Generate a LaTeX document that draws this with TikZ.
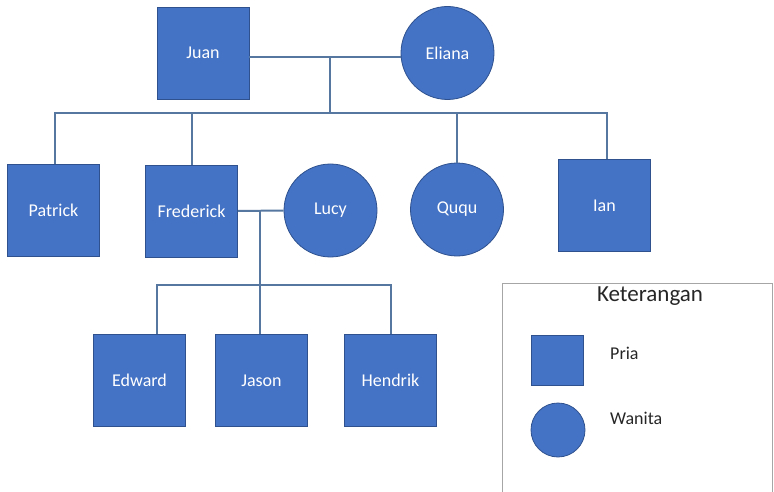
\documentclass[tikz,border=0pt]{standalone}
\usepackage{fontspec}
\setmainfont{Carlito}
\definecolor{isi}{RGB}{68,114,196}
\definecolor{tepi}{RGB}{47,82,143}
\definecolor{garis}{RGB}{86,120,160}
\tikzset{
    pria/.style={rectangle, fill=isi, draw=tepi, line width=0.8pt, minimum width=92pt, minimum height=92pt, inner sep=0pt, text=white, font=\fontsize{18}{20}\selectfont},
    wanita/.style={circle, fill=isi, draw=tepi, line width=0.8pt, minimum size=93pt, inner sep=0pt, text=white, font=\fontsize{18}{20}\selectfont},
    hubung/.style={draw=garis, line width=2pt},
    ket/.style={inner sep=0pt, text=black!85, font=\fontsize{18}{20}\selectfont}
}
\begin{document}
\begin{tikzpicture}[x=1pt, y=-1pt]
    \useasboundingbox (0,0) rectangle (774,492);

    % generasi pertama
    \node[pria] (juan) at (203,53) {Juan};
    \node[wanita] (eliana) at (447.5,53) {Eliana};

    % anak-anak Juan dan Eliana
    \node[pria] (patrick) at (53.5,210.5) {Patrick};
    \node[pria] (frederick) at (191.5,211) {Frederick};
    \node[wanita] (lucy) at (330.5,210.5) {Lucy};
    \node[wanita] (ququ) at (457,209.5) {Ququ};
    \node[pria] (ian) at (604.5,205.5) {Ian};

    % anak-anak Frederick dan Lucy
    \node[pria] (edward) at (139.5,380.5) {Edward};
    \node[pria] (jason) at (261.5,380.5) {Jason};
    \node[pria] (hendrik) at (390.5,380.5) {Hendrik};

    % garis pernikahan Juan - Eliana
    \coordinate (nikah1) at (330,57);
    \coordinate (anak1) at (330,113);
    \draw[hubung] (juan.east |- nikah1) -- (eliana.west |- nikah1);
    \draw[hubung] (nikah1) -- (anak1);
    \draw[hubung] ([xshift=1.5pt]patrick.north) |- ([xshift=2.5pt]ian.north |- anak1) -- ([xshift=2.5pt]ian.north);
    \foreach \n in {frederick,ququ} {
        \draw[hubung] (\n.north) -- (\n.north |- anak1);
    }

    % garis pernikahan Frederick - Lucy
    \coordinate (nikah2) at (259.5,211);
    \coordinate (anak2) at (259.5,285);
    \draw[hubung] (frederick.east) -- (lucy.west);
    \draw[hubung] (nikah2) -- (anak2);
    \draw[hubung] ([xshift=17.5pt]edward.north) |- (hendrik.north |- anak2) -- (hendrik.north);
    \draw[hubung] ([xshift=-1.5pt]jason.north) -- ([xshift=-1.5pt]jason.north |- anak2);

    % keterangan
    \draw[draw=gray!70, line width=0.8pt] (502,492) -- (502,283) -- (772,283) -- (772,492);
    \node[ket, font=\fontsize{23}{26}\selectfont] (judul) at (650,296) {Keterangan};
    \node[pria, minimum width=52pt, minimum height=50pt] (lambangpria) at (557,360) {};
    \node[ket, anchor=west] (teks pria) at (610,353) {Pria};
    \node[wanita, minimum size=54pt] (lambangwanita) at (558,430) {};
    \node[ket, anchor=west] (teks wanita) at (610,418) {Wanita};
\end{tikzpicture}
\end{document}
